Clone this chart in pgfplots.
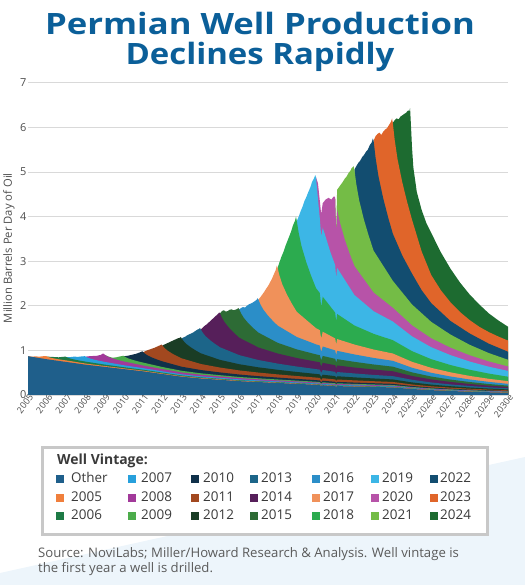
\documentclass[border=0pt]{standalone}
\usepackage{pgfplots}
\pgfplotsset{compat=1.18}
\usepackage{fontspec}
\setmainfont{Open Sans}
\definecolor{cOther}{HTML}{1F5F8B}
\definecolor{c2005}{HTML}{F07F3C}
\definecolor{c2006}{HTML}{1E7A45}
\definecolor{c2007}{HTML}{27A0DC}
\definecolor{c2008}{HTML}{A2399A}
\definecolor{c2009}{HTML}{4CAC4B}
\definecolor{c2010}{HTML}{10314A}
\definecolor{c2011}{HTML}{A2481F}
\definecolor{c2012}{HTML}{1A3D25}
\definecolor{c2013}{HTML}{1C6589}
\definecolor{c2014}{HTML}{561F5A}
\definecolor{c2015}{HTML}{2D6B35}
\definecolor{c2016}{HTML}{2B8EC8}
\definecolor{c2017}{HTML}{F0915A}
\definecolor{c2018}{HTML}{2CAB4F}
\definecolor{c2019}{HTML}{3CB6E6}
\definecolor{c2020}{HTML}{B753A8}
\definecolor{c2021}{HTML}{74BC46}
\definecolor{c2022}{HTML}{124D70}
\definecolor{c2023}{HTML}{E0652A}
\definecolor{c2024}{HTML}{1D6B30}
\definecolor{titleblue}{HTML}{0B5F99}
\definecolor{gridc}{HTML}{D9D9D9}
\definecolor{txt}{HTML}{4D4D4D}
\definecolor{legtxt}{HTML}{3A3A3A}
\definecolor{srctxt}{HTML}{5A5A5A}
\definecolor{bgblue}{HTML}{EDF5FB}
\definecolor{boxgrey}{HTML}{C8C8C8}
\newcommand{\legfont}{\fontsize{13.5}{14}\selectfont}
\newcommand{\li}[5]{\fill[#3] (#1,#2-0.5) rectangle ++(8,8);
  \node[anchor=base west, inner sep=0pt, font=\legfont, text=legtxt] at (#4,#2) {#5};}
\begin{document}
\begin{tikzpicture}[x=1bp,y=1bp]
\path[use as bounding box] (0,0) rectangle (525,585);
\fill[bgblue] (0,12) -- (525,128) -- (525,0) -- (0,0) -- cycle;
\node[anchor=base, inner sep=0pt, text=titleblue, font=\fontsize{29.5}{30}\selectfont\bfseries] at (260,550) {\scalebox{1.18}[1]{Permian Well Production}};
\node[anchor=base, inner sep=0pt, text=titleblue, font=\fontsize{29.5}{30}\selectfont\bfseries] at (260,520) {\scalebox{1.12}[1]{Declines Rapidly}};
\begin{axis}[
  at={(28bp,190bp)}, anchor=south west,
  scale only axis, width=480bp, height=312.3bp,
  xmin=2005, xmax=2030, ymin=0, ymax=7,
  axis line style={draw=none},
  major tick length=0pt,
  ytick={0,1,...,7},
  ymajorgrids, grid style={draw=gridc, line width=0.7bp},
  xtick={2005,2006,...,2030},
  xticklabels={2005,2006,2007,2008,2009,2010,2011,2012,2013,2014,2015,2016,2017,2018,2019,2020,2021,2022,2023,2024,2025e,2026e,2027e,2028e,2029e,2030e},
  xticklabel style={rotate=53, anchor=east, font=\fontsize{9}{9}\selectfont, text=txt, inner sep=0.5bp, xshift=2bp, yshift=-3bp},
  yticklabel style={font=\fontsize{11}{11}\selectfont, text=txt, inner sep=1.5bp},
  /pgf/number format/assume math mode=true,
  ylabel={Million Barrels Per Day of Oil},
  ylabel style={at={(axis description cs:-0.04,0.47)}, anchor=center, font=\fontsize{11.3}{12}\selectfont, text=txt},
]
\addplot[draw=none, fill=c2024] coordinates {(2024,6.10) (2024.1,6.16) (2024.2,6.20) (2024.3,6.18) (2024.4,6.24) (2024.5,6.27) (2024.6,6.30) (2024.7,6.33) (2024.8,6.38) (2024.86,6.36) (2024.9,6.43) (2024.95,6.0) (2025,5.55) (2025.07,5.1) (2025.25,4.55) (2025.5,4.15) (2025.75,3.85) (2026,3.634) (2026.5,3.20) (2027,2.834) (2027.5,2.52) (2028,2.254) (2028.5,2.03) (2029,1.829) (2029.5,1.67) (2030,1.53)} \closedcycle;
\addplot[draw=none, fill=c2023] coordinates {(2023,5.70) (2023.1,5.80) (2023.2,5.85) (2023.3,5.88) (2023.4,5.83) (2023.5,5.90) (2023.6,5.95) (2023.7,5.98) (2023.8,6.05) (2023.9,6.12) (2023.96,6.20) (2024,6.10) (2024.1,5.710) (2024.25,5.276) (2024.5,4.755) (2024.75,4.321) (2025,3.931) (2025.5,3.22) (2026,2.69) (2026.5,2.35) (2027,2.08) (2027.5,1.86) (2028,1.68) (2028.5,1.53) (2029,1.41) (2029.5,1.31) (2030,1.22)} \closedcycle;
\addplot[draw=none, fill=c2022] coordinates {(2022,5.05) (2022.1,5.13) (2022.2,5.20) (2022.3,5.25) (2022.4,5.33) (2022.5,5.38) (2022.6,5.45) (2022.7,5.50) (2022.8,5.60) (2022.9,5.66) (2022.96,5.75) (2023,5.70) (2023.1,5.325) (2023.25,4.908) (2023.5,4.408) (2023.75,3.991) (2024,3.616) (2024.5,3.12) (2025,2.72) (2025.5,2.35) (2026,2.06) (2027,1.66) (2028,1.38) (2029,1.15) (2030,0.970)} \closedcycle;
\addplot[draw=none, fill=c2021] coordinates {(2021,4.42) (2021.05,3.70) (2021.1,4.60) (2021.2,4.66) (2021.3,4.72) (2021.4,4.78) (2021.5,4.85) (2021.6,4.90) (2021.7,4.98) (2021.8,5.03) (2021.85,5.08) (2021.96,5.13) (2022,5.05) (2022.1,4.723) (2022.25,4.360) (2022.5,3.925) (2022.75,3.562) (2023,3.235) (2024,2.560) (2025,2.029) (2026,1.640) (2027,1.356) (2028,1.126) (2029,0.940) (2030,0.790)} \closedcycle;
\addplot[draw=none, fill=c2020] coordinates {(2020,4.88) (2020.1,4.75) (2020.2,4.35) (2020.27,4.05) (2020.35,4.30) (2020.5,4.38) (2020.65,4.42) (2020.8,4.38) (2020.9,4.44) (2020.96,4.45) (2021,4.42) (2021.05,3.62) (2021.1,4.15) (2021.25,3.86) (2021.5,3.48) (2021.75,3.17) (2022,2.889) (2023,2.294) (2024,1.955) (2025,1.560) (2026,1.271) (2027,1.061) (2028,0.890) (2029,0.752) (2030,0.640)} \closedcycle;
\addplot[draw=none, fill=c2019] coordinates {(2019,3.90) (2019.1,4.00) (2019.2,4.12) (2019.3,4.22) (2019.4,4.35) (2019.5,4.44) (2019.6,4.55) (2019.7,4.65) (2019.8,4.78) (2019.9,4.86) (2019.96,4.93) (2020,4.88) (2020.1,4.40) (2020.2,3.95) (2020.27,3.55) (2020.35,3.75) (2020.5,3.55) (2020.75,3.20) (2021,2.91) (2021.05,2.62) (2021.1,2.85) (2022,2.242) (2023,1.878) (2024,1.647) (2025,1.315) (2026,1.071) (2027,0.894) (2028,0.750) (2029,0.634) (2030,0.540)} \closedcycle;
\addplot[draw=none, fill=c2018] coordinates {(2018,2.85) (2018.1,2.98) (2018.2,3.10) (2018.3,3.20) (2018.4,3.33) (2018.5,3.44) (2018.6,3.55) (2018.7,3.66) (2018.8,3.80) (2018.9,3.90) (2018.96,4.00) (2019,3.90) (2019.1,3.629) (2019.25,3.328) (2019.5,2.967) (2019.75,2.666) (2020,2.395) (2020.2,2.285) (2020.27,1.977) (2020.35,2.203) (2021,1.845) (2021.05,1.648) (2021.1,1.816) (2022,1.558) (2023,1.371) (2024,1.229) (2025,0.983) (2026,0.803) (2027,0.672) (2028,0.566) (2029,0.480) (2030,0.410)} \closedcycle;
\addplot[draw=none, fill=c2017] coordinates {(2017,2.14) (2017.1,2.19) (2017.2,2.25) (2017.3,2.31) (2017.4,2.38) (2017.5,2.44) (2017.6,2.52) (2017.7,2.60) (2017.8,2.70) (2017.9,2.80) (2017.96,2.90) (2018,2.85) (2018.1,2.673) (2018.25,2.475) (2018.5,2.239) (2018.75,2.041) (2019,1.864) (2020,1.498) (2020.2,1.452) (2020.27,1.264) (2020.35,1.418) (2021,1.268) (2021.05,1.135) (2021.1,1.254) (2022,1.131) (2023,1.019) (2024,0.930) (2025,0.744) (2026,0.608) (2027,0.508) (2028,0.428) (2029,0.363) (2030,0.310)} \closedcycle;
\addplot[draw=none, fill=c2016] coordinates {(2016,1.92) (2016.1,1.95) (2016.2,1.97) (2016.3,1.96) (2016.4,2.00) (2016.5,2.03) (2016.6,2.05) (2016.7,2.07) (2016.8,2.10) (2016.9,2.13) (2016.96,2.17) (2017,2.14) (2017.1,2.035) (2017.25,1.918) (2017.5,1.778) (2017.75,1.661) (2018,1.556) (2019,1.300) (2020,1.135) (2020.2,1.108) (2020.27,0.967) (2020.35,1.087) (2021,0.999) (2021.05,0.895) (2021.1,0.990) (2022,0.909) (2023,0.831) (2024,0.766) (2025,0.611) (2026,0.498) (2027,0.415) (2028,0.348) (2029,0.294) (2030,0.250)} \closedcycle;
\addplot[draw=none, fill=c2015] coordinates {(2015,1.83) (2015.1,1.88) (2015.2,1.90) (2015.3,1.87) (2015.4,1.88) (2015.5,1.91) (2015.6,1.92) (2015.7,1.90) (2015.8,1.91) (2015.9,1.93) (2015.96,1.95) (2016,1.92) (2016.1,1.826) (2016.25,1.722) (2016.5,1.596) (2016.75,1.492) (2017,1.398) (2018,1.170) (2019,1.022) (2020,0.911) (2020.2,0.891) (2020.27,0.778) (2020.35,0.876) (2021,0.810) (2021.05,0.726) (2021.1,0.803) (2022,0.743) (2023,0.684) (2024,0.635) (2025,0.507) (2026,0.414) (2027,0.346) (2028,0.291) (2029,0.246) (2030,0.210)} \closedcycle;
\addplot[draw=none, fill=c2014] coordinates {(2014,1.47) (2014.1,1.51) (2014.2,1.55) (2014.3,1.58) (2014.4,1.62) (2014.5,1.66) (2014.6,1.70) (2014.7,1.74) (2014.8,1.78) (2014.9,1.82) (2014.96,1.85) (2015,1.83) (2015.1,1.732) (2015.25,1.623) (2015.5,1.491) (2015.75,1.382) (2016,1.284) (2017,1.065) (2018,0.930) (2019,0.829) (2020,0.748) (2020.2,0.732) (2020.27,0.639) (2020.35,0.720) (2021,0.667) (2021.05,0.598) (2021.1,0.662) (2022,0.616) (2023,0.571) (2024,0.532) (2025,0.426) (2026,0.349) (2027,0.293) (2028,0.247) (2029,0.210) (2030,0.180)} \closedcycle;
\addplot[draw=none, fill=c2013] coordinates {(2013,1.27) (2013.1,1.29) (2013.2,1.31) (2013.3,1.34) (2013.4,1.36) (2013.5,1.38) (2013.6,1.40) (2013.7,1.43) (2013.8,1.46) (2013.9,1.48) (2013.96,1.50) (2014,1.47) (2014.1,1.398) (2014.25,1.318) (2014.5,1.222) (2014.75,1.142) (2015,1.070) (2016,0.894) (2017,0.784) (2018,0.704) (2019,0.638) (2020,0.580) (2020.2,0.568) (2020.27,0.496) (2020.35,0.559) (2021,0.519) (2021.05,0.465) (2021.1,0.515) (2022,0.483) (2023,0.450) (2024,0.423) (2025,0.341) (2026,0.281) (2027,0.237) (2028,0.202) (2029,0.173) (2030,0.150)} \closedcycle;
\addplot[draw=none, fill=c2012] coordinates {(2012,1.11) (2012.1,1.13) (2012.2,1.15) (2012.3,1.17) (2012.4,1.19) (2012.5,1.21) (2012.6,1.23) (2012.7,1.25) (2012.8,1.27) (2012.9,1.28) (2012.96,1.30) (2013,1.27) (2013.1,1.210) (2013.25,1.142) (2013.5,1.062) (2013.75,0.994) (2014,0.934) (2015,0.787) (2016,0.690) (2017,0.620) (2018,0.565) (2019,0.516) (2020,0.472) (2020.2,0.462) (2020.27,0.404) (2020.35,0.455) (2021,0.423) (2021.05,0.379) (2021.1,0.420) (2022,0.395) (2023,0.371) (2024,0.349) (2025,0.282) (2026,0.233) (2027,0.197) (2028,0.168) (2029,0.144) (2030,0.125)} \closedcycle;
\addplot[draw=none, fill=c2011] coordinates {(2011,0.96) (2011.2,1.00) (2011.4,1.03) (2011.6,1.06) (2011.8,1.10) (2011.96,1.13) (2012,1.11) (2012.1,1.058) (2012.25,1.001) (2012.5,0.931) (2012.75,0.874) (2013,0.822) (2014,0.695) (2015,0.615) (2016,0.551) (2017,0.503) (2018,0.462) (2019,0.425) (2020,0.391) (2020.2,0.383) (2020.27,0.334) (2020.35,0.376) (2021,0.349) (2021.05,0.313) (2021.1,0.347) (2022,0.328) (2023,0.309) (2024,0.292) (2025,0.236) (2026,0.195) (2027,0.165) (2028,0.141) (2029,0.121) (2030,0.105)} \closedcycle;
\addplot[draw=none, fill=c2010] coordinates {(2010,0.87) (2010.2,0.88) (2010.4,0.90) (2010.6,0.92) (2010.8,0.95) (2010.96,0.98) (2011,0.96) (2011.1,0.923) (2011.25,0.882) (2011.5,0.832) (2011.75,0.791) (2012,0.754) (2013,0.634) (2014,0.560) (2015,0.506) (2016,0.459) (2017,0.422) (2018,0.391) (2019,0.361) (2020,0.333) (2020.2,0.326) (2020.27,0.284) (2020.35,0.320) (2021,0.296) (2021.05,0.266) (2021.1,0.294) (2022,0.279) (2023,0.264) (2024,0.250) (2025,0.202) (2026,0.167) (2027,0.141) (2028,0.120) (2029,0.104) (2030,0.090)} \closedcycle;
\addplot[draw=none, fill=c2009] coordinates {(2009,0.90) (2009.2,0.86) (2009.4,0.835) (2009.6,0.845) (2009.8,0.865) (2009.96,0.88) (2010,0.87) (2010.1,0.844) (2010.25,0.815) (2010.5,0.781) (2010.75,0.752) (2011,0.726) (2012,0.627) (2013,0.543) (2014,0.486) (2015,0.444) (2016,0.404) (2017,0.374) (2018,0.348) (2019,0.322) (2020,0.297) (2020.2,0.290) (2020.27,0.253) (2020.35,0.285) (2021,0.263) (2021.05,0.236) (2021.1,0.262) (2022,0.249) (2023,0.236) (2024,0.223) (2025,0.180) (2026,0.149) (2027,0.126) (2028,0.107) (2029,0.092) (2030,0.080)} \closedcycle;
\addplot[draw=none, fill=c2008] coordinates {(2008,0.86) (2008.2,0.87) (2008.4,0.875) (2008.6,0.88) (2008.8,0.90) (2008.9,0.93) (2008.96,0.92) (2009,0.90) (2009.1,0.873) (2009.25,0.843) (2009.5,0.807) (2009.75,0.777) (2010,0.750) (2011,0.661) (2012,0.580) (2013,0.505) (2014,0.454) (2015,0.416) (2016,0.379) (2017,0.352) (2018,0.328) (2019,0.304) (2020,0.280) (2020.2,0.273) (2020.27,0.239) (2020.35,0.268) (2021,0.247) (2021.05,0.222) (2021.1,0.246) (2022,0.234) (2023,0.222) (2024,0.210) (2025,0.169) (2026,0.140) (2027,0.118) (2028,0.101) (2029,0.086) (2030,0.075)} \closedcycle;
\addplot[draw=none, fill=c2007] coordinates {(2007,0.85) (2007.2,0.85) (2007.4,0.86) (2007.6,0.855) (2007.8,0.865) (2007.96,0.87) (2008,0.86) (2008.1,0.839) (2008.25,0.815) (2008.5,0.787) (2008.75,0.763) (2009,0.742) (2010,0.666) (2011,0.601) (2012,0.531) (2013,0.464) (2014,0.418) (2015,0.384) (2016,0.350) (2017,0.326) (2018,0.304) (2019,0.282) (2020,0.260) (2020.2,0.254) (2020.27,0.221) (2020.35,0.249) (2021,0.228) (2021.05,0.205) (2021.1,0.227) (2022,0.216) (2023,0.205) (2024,0.194) (2025,0.156) (2026,0.128) (2027,0.108) (2028,0.092) (2029,0.079) (2030,0.068)} \closedcycle;
\addplot[draw=none, fill=c2006] coordinates {(2006,0.86) (2006.2,0.855) (2006.4,0.85) (2006.6,0.845) (2006.8,0.855) (2006.96,0.86) (2007,0.85) (2007.1,0.832) (2007.25,0.811) (2007.5,0.787) (2007.75,0.766) (2008,0.748) (2009,0.681) (2010,0.622) (2011,0.566) (2012,0.501) (2013,0.438) (2014,0.395) (2015,0.363) (2016,0.331) (2017,0.309) (2018,0.288) (2019,0.267) (2020,0.246) (2020.2,0.240) (2020.27,0.209) (2020.35,0.235) (2021,0.215) (2021.05,0.193) (2021.1,0.214) (2022,0.204) (2023,0.194) (2024,0.183) (2025,0.147) (2026,0.120) (2027,0.101) (2028,0.085) (2029,0.072) (2030,0.062)} \closedcycle;
\addplot[draw=none, fill=c2005] coordinates {(2005,0.87) (2005.2,0.86) (2005.4,0.865) (2005.6,0.86) (2005.8,0.87) (2005.96,0.87) (2006,0.86) (2006.1,0.845) (2006.25,0.828) (2006.5,0.807) (2006.75,0.790) (2007,0.775) (2008,0.705) (2009,0.650) (2010,0.597) (2011,0.545) (2012,0.483) (2013,0.422) (2014,0.381) (2015,0.350) (2016,0.319) (2017,0.298) (2018,0.278) (2019,0.257) (2020,0.237) (2020.2,0.231) (2020.27,0.201) (2020.35,0.227) (2021,0.207) (2021.05,0.186) (2021.1,0.206) (2022,0.196) (2023,0.186) (2024,0.176) (2025,0.141) (2026,0.115) (2027,0.096) (2028,0.080) (2029,0.068) (2030,0.058)} \closedcycle;
\addplot[draw=none, fill=cOther] coordinates {(2005,0.87) (2006,0.80) (2007,0.74) (2008,0.68) (2009,0.63) (2010,0.58) (2011,0.53) (2012,0.47) (2013,0.41) (2014,0.37) (2015,0.34) (2016,0.31) (2017,0.29) (2018,0.27) (2019,0.25) (2020,0.23) (2020.2,0.224) (2020.27,0.195) (2020.35,0.220) (2021,0.20) (2021.05,0.180) (2021.1,0.199) (2022,0.19) (2023,0.18) (2024,0.17) (2025,0.135) (2026,0.109) (2027,0.090) (2028,0.074) (2029,0.062) (2030,0.052)} \closedcycle;
\end{axis}
% legend box
\draw[line width=3bp, draw=boxgrey, fill=white] (42,50) rectangle (487,137);
\node[anchor=base west, inner sep=0pt, font=\fontsize{14}{14}\selectfont\bfseries, text=legtxt] at (57,120) {Well Vintage:};
\li{56}{102}{cOther}{71}{Other}
\li{56}{83}{c2005}{71}{2005}
\li{56}{65}{c2006}{71}{2006}
\li{128}{102}{c2007}{141}{2007}
\li{128}{83}{c2008}{141}{2008}
\li{128}{65}{c2009}{141}{2009}
\li{191}{102}{c2010}{203}{2010}
\li{191}{83}{c2011}{203}{2011}
\li{191}{65}{c2012}{203}{2012}
\li{250}{102}{c2013}{261}{2013}
\li{250}{83}{c2014}{261}{2014}
\li{250}{65}{c2015}{261}{2015}
\li{312}{102}{c2016}{323}{2016}
\li{312}{83}{c2017}{323}{2017}
\li{312}{65}{c2018}{323}{2018}
\li{371}{102}{c2019}{382}{2019}
\li{371}{83}{c2020}{382}{2020}
\li{371}{65}{c2021}{382}{2021}
\li{430}{102}{c2022}{440}{2022}
\li{430}{83}{c2023}{440}{2023}
\li{430}{65}{c2024}{440}{2024}
\node[anchor=base west, inner sep=0pt, font=\fontsize{13.2}{13.2}\selectfont, text=srctxt] at (38,27) {Source: NoviLabs; Miller/Howard Research \& Analysis. Well vintage is};
\node[anchor=base west, inner sep=0pt, font=\fontsize{13.2}{13.2}\selectfont, text=srctxt] at (38,12) {the first year a well is drilled.};
\end{tikzpicture}
\end{document}
